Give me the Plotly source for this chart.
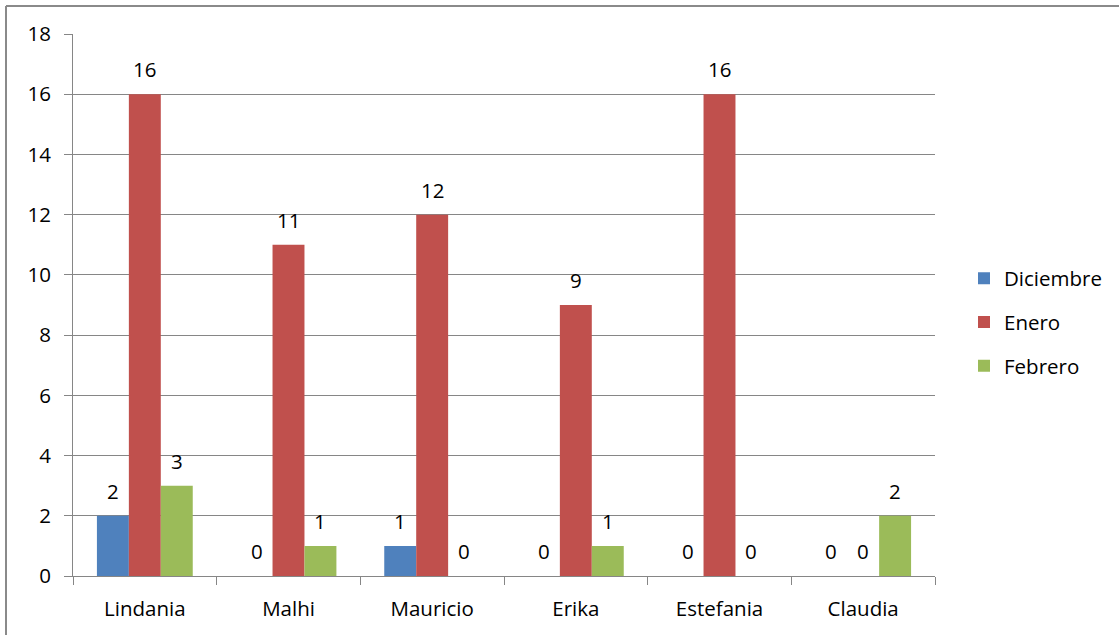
import plotly.graph_objects as go

categories = ["Lindania", "Malhi", "Mauricio", "Erika", "Estefania", "Claudia"]
series_names = ["Diciembre", "Enero", "Febrero"]
diciembre = [2, 0, 1, 0, 0, 0]
enero = [16, 11, 12, 9, 16, 0]
febrero = [3, 1, 0, 1, 0, 2]
y_ticks = [0, 2, 4, 6, 8, 10, 12, 14, 16, 18]

series_values = [diciembre, enero, febrero]
colors = ["#4F81BD", "#C0504D", "#9BBB59"]

W, H = 1119, 635
ml, mr, mt, mb = 73, 184, 34, 59
plot_w = W - ml - mr
plot_h = H - mt - mb
bargap = 0.333
bar_w = plot_w / len(categories) * (1 - bargap) / 3

FONT = "Open Sans"
FS = 20.5

fig = go.Figure()
for i, (name, vals, col) in enumerate(zip(series_names, series_values, colors)):
    fig.add_trace(go.Bar(
        x=categories, y=vals, name=name,
        marker=dict(color=col, line=dict(width=0)),
        legendgroup=name, hoverinfo="skip",
    ))

annotations = []
for i, vals in enumerate(series_values):
    for cat, v in zip(categories, vals):
        annotations.append(dict(
            x=cat, y=v, xref="x", yref="y", text=str(v), showarrow=False,
            xshift=(i - 1) * bar_w, yshift=25, yanchor="middle",
            font=dict(family=FONT, size=FS, color="#000000"),
        ))

bx = (6 - ml) / plot_w
by = 1 + (mt - 6) / plot_h
shapes = [
    dict(type="line", xref="paper", yref="paper", x0=bx, x1=(W + 5 - ml) / plot_w, y0=by, y1=by,
         line=dict(color="#8A8A8A", width=2)),
    dict(type="line", xref="paper", yref="paper", x0=bx, x1=bx, y0=by, y1=-(mb + 5) / plot_h,
         line=dict(color="#8A8A8A", width=2)),
]

fig.update_layout(
    width=W, height=H,
    margin=dict(l=ml, r=mr, t=mt, b=mb, pad=0),
    paper_bgcolor="white", plot_bgcolor="white",
    barmode="group", bargap=bargap, bargroupgap=0,
    font=dict(family=FONT, size=FS, color="#000000"),
    showlegend=True,
    legend=dict(x=(964 - ml) / plot_w, y=(576 - 322) / plot_h, xanchor="left", yanchor="middle",
                font=dict(family=FONT, size=FS, color="#000000"),
                tracegroupgap=14, bgcolor="rgba(0,0,0,0)", itemwidth=30),
    annotations=annotations,
    shapes=shapes,
    xaxis=dict(
        type="category", showgrid=False, showline=True, linecolor="#868686", linewidth=1,
        ticks="outside", tickson="boundaries", ticklen=8, tickcolor="#868686",
        tickfont=dict(family=FONT, size=FS, color="#000000"),
        ticklabelstandoff=14, fixedrange=True,
    ),
    yaxis=dict(
        range=[0, 18], tickvals=y_ticks, showgrid=True, gridcolor="#868686", gridwidth=1,
        showline=True, linecolor="#868686", linewidth=1,
        ticks="outside", ticklen=8, tickcolor="#868686",
        tickfont=dict(family=FONT, size=FS, color="#000000"),
        ticklabelstandoff=9, zeroline=False, fixedrange=True,
    ),
)

fig.write_html("out.html", config={"displayModeBar": False, "staticPlot": True},
               post_script="document.body.style.margin='0';document.body.style.overflow='hidden';")
